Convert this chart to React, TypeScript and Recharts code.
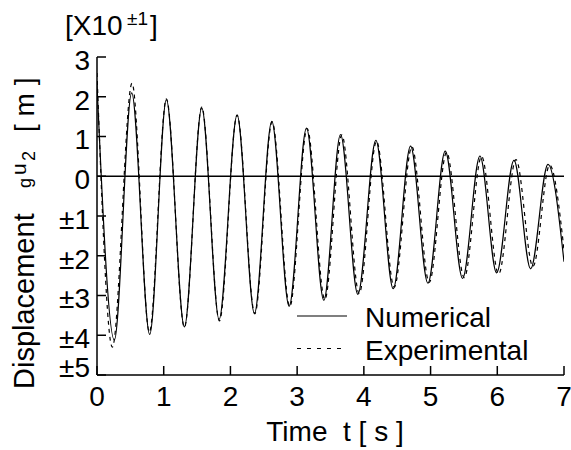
import React from 'react';
import { LineChart, Line, XAxis, YAxis, ReferenceLine } from 'recharts';

const numT = [0, 0.26, 0.52, 0.79, 1.04, 1.31, 1.57, 1.83, 2.1, 2.36, 2.62, 2.88, 3.14, 3.4, 3.65, 3.91, 4.18, 4.44, 4.7, 4.96, 5.22, 5.48, 5.74, 5.99, 6.25, 6.5, 6.76, 7.0];
const numV = [2.3, -4.12, 2.1, -3.98, 1.93, -3.79, 1.72, -3.6, 1.54, -3.45, 1.38, -3.27, 1.21, -3.12, 1.05, -2.97, 0.9, -2.83, 0.76, -2.69, 0.63, -2.57, 0.51, -2.43, 0.4, -2.33, 0.3, -2.15];

const expT = [0, 0.23, 0.525, 0.785, 1.04, 1.31, 1.57, 1.835, 2.1, 2.365, 2.625, 2.89, 3.15, 3.415, 3.67, 3.93, 4.19, 4.455, 4.72, 4.98, 5.24, 5.505, 5.765, 6.02, 6.28, 6.535, 6.785, 7.0];
const expV = [2.6, -4.3, 2.34, -3.92, 1.95, -3.8, 1.74, -3.64, 1.54, -3.46, 1.37, -3.28, 1.2, -3.1, 1.04, -2.95, 0.88, -2.79, 0.74, -2.67, 0.6, -2.55, 0.5, -2.46, 0.42, -2.27, 0.28, -1.85];

const xTicks = [0, 1, 2, 3, 4, 5, 6, 7];
const yTicks = [-5, -4, -3, -2, -1, 0, 1, 2, 3];

const numerical = numT.map((t, i) => ({ t, v: numV[i] }));
const experimental = expT.map((t, i) => ({ t, v: expV[i] }));

const FONT = '"Liberation Sans", Arial, Helvetica, sans-serif';
const fmtY = (v: number) => (v < 0 ? '±' + Math.abs(v) : String(v));
const noLabel = () => <g />;

// y tick labels sit a little below their ticks; the bottom one is lifted clear of the x labels
const YTick = (props: any) => {
  const { x, y, payload } = props;
  const shift = payload.value === -5 ? -8 : 3;
  return (
    <text x={x} y={y + shift} dy="0.355em" textAnchor="end" fontSize={28} fontFamily={FONT} fill="#000">
      {fmtY(payload.value)}
    </text>
  );
};

const App: React.FC = () => {
  const axisLine = { stroke: '#000', strokeWidth: 1.5 };
  const tickStyle = { fill: '#000', fontSize: 28, fontFamily: FONT };

  return (
    <div style={{ position: 'absolute', left: 0, top: 0, width: 571, height: 450, background: '#fff', fontFamily: FONT }}>
      <LineChart width={571} height={450} margin={{ top: 57, right: 7, bottom: 0, left: 0 }}>
        <XAxis
          xAxisId="x"
          type="number"
          dataKey="t"
          domain={[0, 7]}
          ticks={xTicks}
          allowDataOverflow
          height={75}
          stroke="#000"
          axisLine={axisLine}
          tickLine={axisLine}
          tickSize={-9}
          tickMargin={20}
          tick={tickStyle}
        />
        <XAxis
          xAxisId="xt"
          orientation="top"
          type="number"
          dataKey="t"
          domain={[0, 7]}
          ticks={xTicks}
          height={0}
          mirror
          stroke="#000"
          axisLine={axisLine}
          tickLine={axisLine}
          tickSize={9}
          tick={noLabel}
        />
        <YAxis
          yAxisId="y"
          type="number"
          domain={[-5, 3]}
          ticks={yTicks}
          allowDataOverflow
          width={97}
          stroke="#000"
          axisLine={axisLine}
          tickLine={axisLine}
          tickSize={-9}
          tickMargin={16}
          tick={<YTick />}
        />
        <YAxis
          yAxisId="yr"
          orientation="right"
          type="number"
          domain={[-5, 3]}
          ticks={yTicks}
          width={0}
          mirror
          stroke="#000"
          axisLine={axisLine}
          tickLine={axisLine}
          tickSize={9}
          tick={noLabel}
        />
        <ReferenceLine xAxisId="x" yAxisId="y" y={0} stroke="#000" strokeWidth={1.3} />
        <Line
          xAxisId="x"
          yAxisId="y"
          data={numerical}
          dataKey="v"
          name="Numerical"
          type="monotone"
          stroke="#000"
          strokeWidth={1.2}
          dot={false}
          isAnimationActive={false}
        />
        <Line
          xAxisId="x"
          yAxisId="y"
          data={experimental}
          dataKey="v"
          name="Experimental"
          type="monotone"
          stroke="#000"
          strokeWidth={1.2}
          strokeDasharray="4 4"
          dot={false}
          isAnimationActive={false}
        />
      </LineChart>

      {/* titles, exponent and legend */}
      <svg width={571} height={450} style={{ position: 'absolute', left: 0, top: 0, pointerEvents: 'none' }} fontFamily={FONT} fill="#000">
        <text x={65} y={35} fontSize={28}>[X10</text>
        <text x={127} y={25} fontSize={19}>±1</text>
        <text x={150} y={35} fontSize={28}>]</text>

        <g transform="rotate(-90)">
          <text x={-389} y={34} fontSize={29}>Displacement</text>
          <text x={-188} y={31} fontSize={18}>g</text>
          <text x={-175} y={26} fontSize={21}>u</text>
          <text x={-161} y={35} fontSize={18}>2</text>
          <text x={-132} y={34} fontSize={28} style={{ whiteSpace: 'pre' }}>[ m ]</text>
        </g>

        <text x={335} y={441} textAnchor="middle" fontSize={28} style={{ whiteSpace: 'pre' }}>Time  t [ s ]</text>

        <line x1={297} y1={316} x2={347} y2={316} stroke="#000" strokeWidth={1.2} />
        <text x={365} y={327} fontSize={28}>Numerical</text>
        <line x1={297} y1={348.5} x2={342} y2={348.5} stroke="#000" strokeWidth={1.2} strokeDasharray="4 6" />
        <text x={365} y={360} fontSize={28}>Experimental</text>
      </svg>
    </div>
  );
};

export default App;
